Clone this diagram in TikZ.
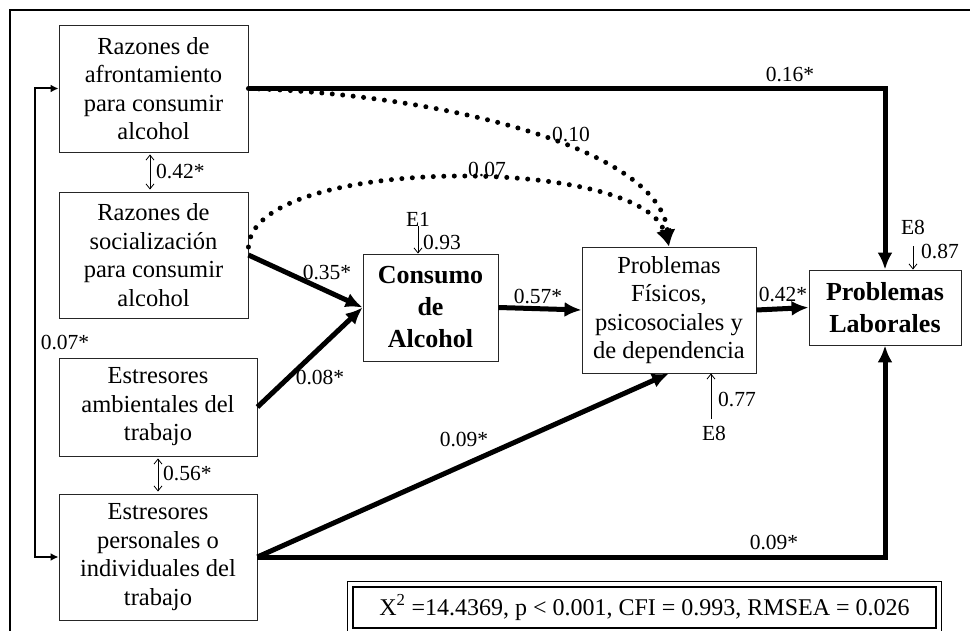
\documentclass[tikz,border=0pt]{standalone}
\usepackage{fontspec}
\setmainfont{Liberation Serif}
\usetikzlibrary{arrows.meta}

\begin{document}
\begin{tikzpicture}[x=1pt, y=-1pt]
    % Define styles
    \tikzset{
        varbox/.style={draw=black!85, line width=0.9pt, align=center, font=\fontsize{24.5}{28.5}\selectfont},
        keybox/.style={draw=black!85, line width=0.9pt, align=center, font=\bfseries\fontsize{26}{32}\selectfont},
        coef/.style={inner sep=0pt, font=\fontsize{21.5}{24}\selectfont},
        patharrow/.style={-{Latex[length=17pt, width=15pt]}, line width=5pt},
        dotarrow/.style={-{Latex[length=17pt, width=16pt]}, line width=5pt, line cap=round, dash pattern=on 0pt off 10.5pt},
        sidearrow/.style={{Latex[length=8pt, width=8pt]}-{Latex[length=8pt, width=8pt]}, line width=2pt},
        errarrow/.style={-{Straight Barb[length=5pt, width=8pt]}, line width=0.8pt},
        covarrow/.style={{Straight Barb[length=5pt, width=8pt]}-{Straight Barb[length=5pt, width=8pt]}, line width=0.8pt, shorten <=2pt, shorten >=2pt}
    }
    \useasboundingbox (0,0) rectangle (970,631);

    % Frame
    \draw[line width=1.5pt] (10,631) -- (10,10) -- (970,10);

    % Exogenous variables
    \node[varbox, minimum width=189, minimum height=127] (coping) at (153.5,88.5) {Razones de\\afrontamiento\\para consumir\\alcohol};
    \node[varbox, minimum width=189, minimum height=126] (social) at (153.5,255) {Razones de\\socialización\\para consumir\\alcohol};
    \node[varbox, minimum width=198, minimum height=98] (envstress) at (158,407) {Estresores\\ambientales del\\trabajo};
    \node[varbox, minimum width=198, minimum height=126] (perstress) at (158,557) {Estresores\\personales o\\individuales del\\trabajo};

    % Endogenous variables
    \node[keybox, minimum width=135, minimum height=107] (alcohol) at (430.5,307.5) {Consumo\\de\\Alcohol};
    \node[varbox, minimum width=174, minimum height=126] (probfis) at (669,310) {Problemas\\Físicos,\\psicosociales y\\de dependencia};
    \node[keybox, minimum width=152, minimum height=75] (problab) at (885,307.5) {Problemas\\Laborales};

    % Paths
    \draw[patharrow] (coping.east) -| (problab.north);
    \draw[patharrow] (perstress.east) -| (problab.south);
    \draw[patharrow] (social.east) -- (alcohol.west);
    \draw[patharrow] (envstress.east) -- (alcohol.west);
    \draw[patharrow] (alcohol.east) -- (probfis.west);
    \draw[patharrow] (probfis.east) -- (problab.west);
    \draw[patharrow] (perstress.east) -- (probfis.south);
    \draw[dotarrow] (coping.east) .. controls (450,95) and (660,150) .. (probfis.north);
    \draw[dotarrow] ([yshift=8pt]social.east) .. controls (253,155) and (640,155) .. (probfis.north);

    % Covariances
    \draw[sidearrow] (coping.west) -- ++(-24,0) |- (perstress.west);
    \draw[covarrow] ([xshift=-3.5pt]coping.south) -- ([xshift=-3.5pt]social.north);
    \draw[covarrow] (envstress.south) -- (perstress.north);

    % Errors
    \node[coef] (e1) at (418,219) {E1};
    \node[coef] (e8top) at (913,227) {E8};
    \node[coef] (e8bot) at (714,433) {E8};
    \draw[errarrow] (e1.south) -- (e1.south |- alcohol.north);
    \draw[errarrow, shorten <=12pt] (e8top.south) -- (e8top.south |- problab.north);
    \draw[errarrow] ([xshift=-3pt, yshift=7pt]e8bot.north) -- ([xshift=-3pt]e8bot.north |- probfis.south);

    % Coefficients
    \node[coef] (c016) at (790,75) {0.16*};
    \node[coef] (c010) at (571,135) {0.10};
    \node[coef] (c007) at (487,170) {0.07};
    \node[coef, anchor=west] (c042a) at (156,172) {0.42*};
    \node[coef] (c093) at (442,243) {0.93};
    \node[coef] (c087) at (940,252) {0.87};
    \node[coef] (c035) at (327,273) {0.35*};
    \node[coef] (c057) at (538,297) {0.57*};
    \node[coef] (c042b) at (783,295) {0.42*};
    \node[coef] (c007s) at (65,343) {0.07*};
    \node[coef] (c008) at (320,378) {0.08*};
    \node[coef] (c077) at (737,400) {0.77};
    \node[coef] (c009a) at (464,440) {0.09*};
    \node[coef, anchor=west] (c056) at (163,474) {0.56*};
    \node[coef] (c009b) at (774,543) {0.09*};

    % Fit indices
    \node[draw, line width=2.5pt, minimum width=583, minimum height=41, font=\fontsize{24}{28}\selectfont] (fitbox) at (644.5,607.5) {X\textsuperscript{2} =14.4369, p < 0.001, CFI = 0.993, RMSEA = 0.026};
    \draw[line width=0.9pt] ([shift={(-4pt,4pt)}]fitbox.north west) rectangle ([shift={(4pt,-4pt)}]fitbox.south east);
\end{tikzpicture}
\end{document}
